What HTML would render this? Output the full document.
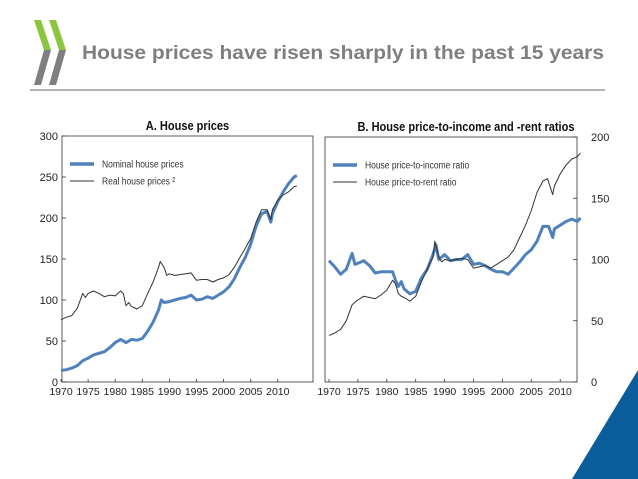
<!DOCTYPE html>
<html><head><meta charset="utf-8"><style>
body{margin:0;background:#fff;width:638px;height:479px;overflow:hidden;position:relative;font-family:"Liberation Sans",sans-serif}
svg{position:absolute;left:0;top:0}
</style></head><body>
<svg width="638" height="479">
<g>
<polygon points="34,20 41,20 51,50 44,50" fill="#8cc63f"/>
<polygon points="44,50 51,50 41,85 34,85" fill="#7f7f7f"/>
<polygon points="49,20 56,20 66,50 59,50" fill="#8cc63f"/>
<polygon points="59,50 66,50 56,85 49,85" fill="#7f7f7f"/>
</g>
<text x="82" y="59" font-size="19" font-weight="bold" fill="#7f7f7f" textLength="522" lengthAdjust="spacingAndGlyphs">House prices have risen sharply in the past 15 years</text>
<line x1="30" y1="90" x2="605" y2="90" stroke="#666" stroke-width="1"/>
<polygon points="572,479 638,370 638,479" fill="#0a5c9a"/>
<g id="chartA"></g>
<g id="chartB"></g>
</svg>
<script>
const aYears=[1970,1971,1972,1973,1974,1975,1976,1977,1978,1979,1980,1981,1982,1983,1984,1985,1986,1987,1988,1988.5,1989,1990,1991,1992,1993,1994,1995,1996,1997,1998,1999,2000,2001,2002,2003,2004,2005,2006,2007,2008,2008.7,2009,2010,2011,2012,2013,2013.5];
const nominal=[14,15,17,20,26,29,33,35,37,42,48,52,48,52,51,53,62,73,88,100,97,98,100,102,103,106,100,101,104,102,106,110,116,126,140,152,168,190,205,208,195,205,220,232,242,250,252];
const realYears=[1970,1971,1972,1973,1974,1974.5,1975,1976,1977,1978,1979,1980,1981,1981.5,1982,1982.5,1983,1984,1985,1986,1987,1988,1988.3,1989,1989.5,1990,1991,1992,1993,1994,1995,1996,1997,1998,1999,2000,2001,2002,2003,2004,2005,2006,2007,2008,2008.7,2009,2010,2011,2012,2013,2013.5];
const real=[76,79,81,90,108,103,108,111,108,104,106,105,111,108,93,97,92,89,93,108,122,140,147,140,130,132,130,131,132,133,124,125,125,122,125,127,131,140,152,163,175,195,210,210,198,210,222,228,232,238,239];
const incYears=[1970,1971,1972,1973,1974,1974.5,1975,1976,1977,1978,1979,1980,1981,1981.5,1982,1982.5,1983,1984,1985,1986,1987,1988,1988.5,1989,1990,1991,1992,1993,1994,1995,1996,1997,1998,1999,2000,2001,2002,2003,2004,2005,2006,2007,2008,2008.7,2009,2010,2011,2012,2013,2013.5];
const income=[99,94,88,92,105,96,97,99,95,89,90,90,90,83,78,82,76,72,74,85,92,104,112,100,104,99,100,100,104,96,97,95,92,90,90,88,93,98,104,108,115,127,127,118,125,128,131,133,131,134];
const rentYears=[1970,1971,1972,1973,1974,1975,1976,1977,1978,1979,1980,1981,1981.5,1982,1982.5,1983,1984,1985,1986,1987,1988,1988.3,1989,1989.5,1990,1991,1992,1993,1994,1995,1996,1997,1998,1999,2000,2001,2002,2003,2004,2005,2006,2007,2007.8,2008.7,2009,2010,2011,2012,2013,2013.5];
const rent=[38,40,43,50,63,67,70,69,68,71,75,83,80,72,70,69,66,70,82,92,102,115,102,98,100,99,100,101,100,93,94,95,93,96,99,102,108,118,128,140,155,164,166,153,160,170,177,182,184,187];
const yearTicks=[1970,1975,1980,1985,1990,1995,2000,2005,2010];
const aTicks=[0,50,100,150,200,250,300];
const bTicks=[0,50,100,150,200];
const NS="http://www.w3.org/2000/svg";
function mk(p,t,a){const e=document.createElementNS(NS,t);for(const k in a)e.setAttribute(k,a[k]);p.appendChild(e);return e;}
function panel(g,o){
  const X=y=>o.x0+(y-1970)*o.px, Y=v=>o.yb-(v/o.ymax)*(o.yb-o.yt);
  const box=mk(g,'rect',{x:o.L,y:o.yt,width:o.R-o.L,height:o.yb-o.yt,fill:'none',stroke:'#333','stroke-width':0.8});
  
  const t=mk(g,'text',{x:(o.L+o.R)/2+o.tdx,y:o.yt-6,'font-size':13,'font-weight':'bold','text-anchor':'middle',fill:'#111',transform:`translate(${(o.L+o.R)/2+o.tdx} 0) scale(0.85 1) translate(${-((o.L+o.R)/2+o.tdx)} 0)`});
  t.textContent=o.title;
  o.ticks.forEach(v=>{
    const tx=o.right?o.R+14:o.L-4;
    const l=mk(g,'line',{x1:o.right?o.R-4:o.L,x2:o.right?o.R:o.L+4,y1:Y(v),y2:Y(v),stroke:'#333','stroke-width':0.8});
    
    const s=mk(g,'text',{x:tx,y:Y(v)+4,'font-size':11,'text-anchor':o.right?'start':'end',fill:'#222'});
    s.textContent=v;
  });
  yearTicks.forEach(y=>{
    const s=mk(g,'text',{x:X(y),y:o.yb+13,'font-size':10.5,'text-anchor':'middle',fill:'#222'});
    s.textContent=y;
    const l=mk(g,'line',{x1:X(y),x2:X(y),y1:o.yb,y2:o.yb-3,stroke:'#333','stroke-width':0.8});
    
  });
  const p=(xs,vs)=>xs.map((x,i)=>(i?'L':'M')+X(x).toFixed(1)+' '+Y(vs[i]).toFixed(1)).join(' ');
  const b=mk(g,'path',{d:p(o.bx,o.bv),fill:'none',stroke:'#4f81bd','stroke-width':3,'stroke-linejoin':'round'});
  
  const k=mk(g,'path',{d:p(o.kx,o.kv),fill:'none',stroke:'#333','stroke-width':1,'stroke-linejoin':'round'});
  
  const lx=o.L+8;
  [[o.l1,'#4f81bd',3.5,o.yt+28],[o.l2,'#333',1,o.yt+45]].forEach(([txt,c,w,y])=>{
    const l=mk(g,'line',{x1:lx,x2:lx+24,y1:y,y2:y,stroke:c,'stroke-width':w});
    
    const s=mk(g,'text',{x:lx+32,y:y+3.5,'font-size':10,fill:'#333',transform:`translate(${lx+32} 0) scale(0.85 1) translate(${-(lx+32)} 0)`});
    s.textContent=txt;
  });
}
panel(document.getElementById('chartA'),{L:62,R:313,yt:136,yb:382,x0:61,px:5.42,ymax:300,ticks:aTicks,right:false,title:'A. House prices',tdx:0,bx:aYears,bv:nominal,kx:realYears,kv:real,bname:'nominal-house-prices-line',kname:'real-house-prices-line',l1:'Nominal house prices',l2:'Real house prices ²'});
panel(document.getElementById('chartB'),{L:325,R:577,yt:137,yb:382,x0:329,px:5.78,ymax:200,ticks:bTicks,right:true,title:'B. House price-to-income and -rent ratios',tdx:15,bx:incYears,bv:income,kx:rentYears,kv:rent,bname:'price-to-income-line',kname:'price-to-rent-line',l1:'House price-to-income ratio',l2:'House price-to-rent ratio'});
</script>
</body></html>
